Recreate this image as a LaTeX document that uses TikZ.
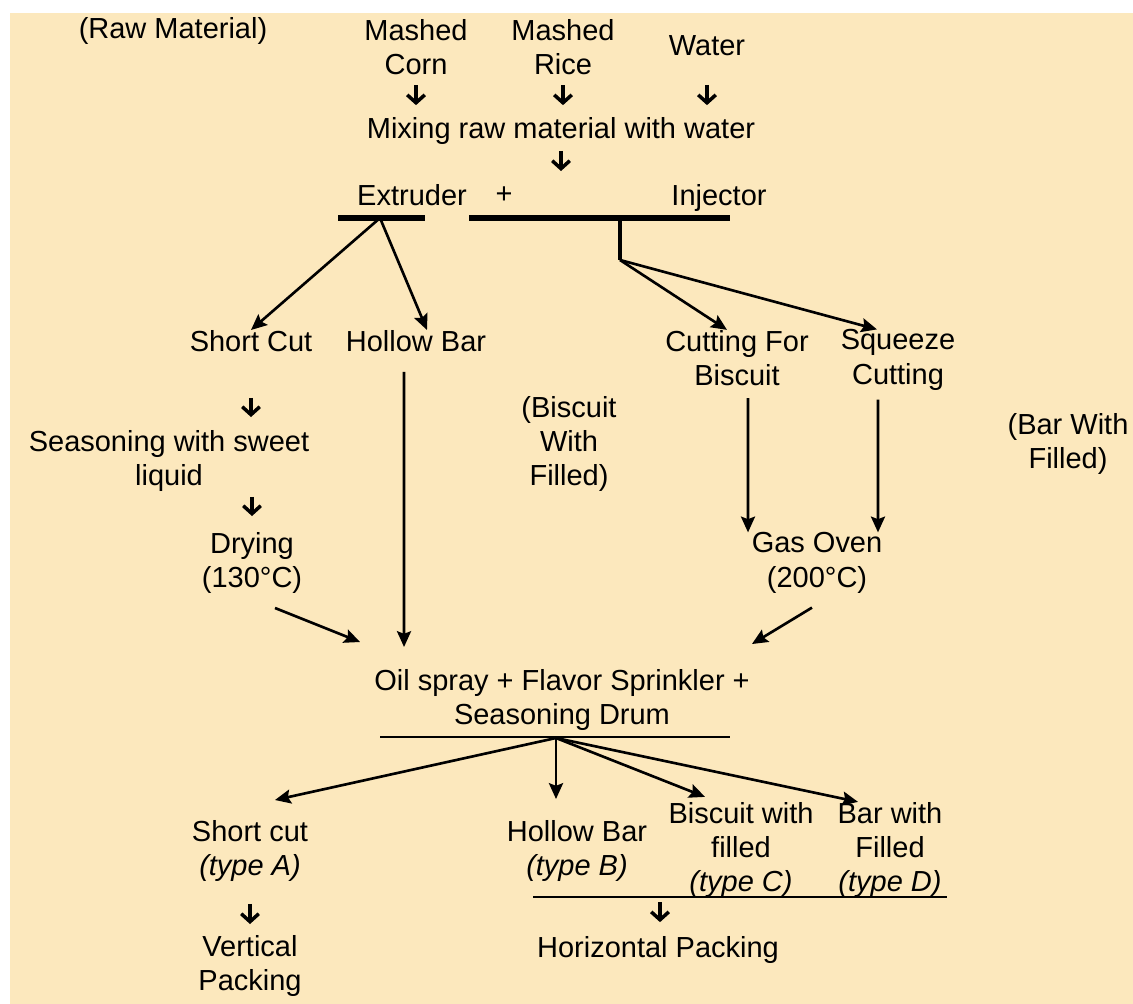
\documentclass[tikz,border=0pt]{standalone}
\usepackage{fontspec}
\setmainfont{Liberation Sans}
\usepackage{tikz}
\usetikzlibrary{arrows.meta}
\definecolor{peach}{RGB}{252,232,189}

\begin{document}
\begin{tikzpicture}[x=0.02cm, y=-0.02cm,
  every node/.style={align=center, inner sep=0pt, font=\fontsize{16.5}{19.5}\selectfont},
  stub/.style={-{Straight Barb[length=4.5pt,width=10pt,line width=2pt]}, line width=2.2pt},
  flow/.style={-{Stealth[length=9pt,width=8pt,inset=1.5pt]}, line width=1.5pt},
  bar/.style={line width=3pt},
  rule/.style={line width=1pt}]
  % Background
  \useasboundingbox (0,0) rectangle (1133,1004);
  \fill[peach] (10,13) rectangle (1133,1004);

  % Raw Material
  \node (raw) at (173,31) {(Raw Material)};
  \node (corn) at (416,47) {Mashed\\Corn};
  \node (rice) at (563,47) {Mashed\\Rice};
  \node (water) at (707,46) {Water};
  \node (mix) at (561,131) {Mixing raw material with water};

  % Extruder + Injector
  \node (ext) at (412,195) {Extruder};
  \node (plus) at (504,195) {+};
  \node (inj) at (719,198) {Injector};
  \coordinate (split) at (561,171);
  \coordinate (extL) at (338,218);
  \coordinate (extR) at (425,218);
  \coordinate (extM) at (380,218);
  \coordinate (injL) at (469,218);
  \coordinate (injR) at (730,218);
  \coordinate (injM) at (620,218);
  \coordinate (injK) at (620,260);

  % Cutting
  \node (sc) at (251,341) {Short Cut};
  \node (hb) at (416,341) {Hollow Bar};
  \node (cfb) at (737,358) {Cutting For\\Biscuit};
  \node (sq) at (898,360) {Squeeze\\Cutting};
  \node (bis) at (569,444) {(Biscuit\\With\\Filled)};
  \node (bwith) at (1068,444) {(Bar With\\Filled)};

  % Seasoning, Drying, Oven
  \node (se) at (169,461) {Seasoning with sweet\\liquid};
  \node (dry) at (252,563) {Drying\\(130°C)};
  \node (go) at (817,563) {Gas Oven\\(200°C)};

  % Oil spray
  \node (oil) at (562,700) {Oil spray + Flavor Sprinkler +\\Seasoning Drum};
  \coordinate (oilL) at (380,737);
  \coordinate (oilR) at (730,737);
  \coordinate (oilM) at (556,738);

  % Products
  \node (sca) at (250,851) {Short cut\\\textit{(type A)}};
  \node (hb2) at (577,851) {Hollow Bar\\\textit{(type B)}};
  \node (bwf) at (741,850) {Biscuit with\\filled\\\textit{(type C)}};
  \node (barf) at (890,850) {Bar with\\Filled\\\textit{(type D)}};
  \coordinate (typL) at (533,897);
  \coordinate (typR) at (947,897);
  \coordinate (typM) at (660,897);

  % Packing
  \node (vp) at (250,966) {Vertical\\Packing};
  \node (hp) at (658,950) {Horizontal Packing};

  % Arrows
  \draw[stub, shorten <=0.2cm, shorten >=0.24cm] (corn.south) -- (corn.south |- mix.north);
  \draw[stub, shorten <=0.2cm, shorten >=0.24cm] (rice.south) -- (rice.south |- mix.north);
  \draw[stub, shorten <=0.57cm, shorten >=0.24cm] (water.south) -- (water.south |- mix.north);
  \draw[stub, shorten <=0.12cm] (mix.south) -- (split);

  \draw[bar] (extL) -- (extR);
  \draw[bar] (injL) -- (injR);
  \draw[line width=1.8pt] (injM) -- (injK);

  \draw[flow] (extM) -- (sc.north);
  \draw[flow] (extM) -- ([xshift=0.22cm]hb.north);
  \draw[flow] (injK) -- ([xshift=-0.2cm]cfb.north);
  \draw[flow] (injK) -- ([xshift=-0.42cm]sq.north);

  \draw[stub, shorten <=0.92cm, shorten >=0.26cm] (sc.south) -- (sc.south |- se.north);
  \draw[stub, shorten <=0.1cm, shorten >=0.32cm] (dry.north |- se.south) -- (dry.north);

  \draw[flow, shorten <=0.4cm, shorten >=0.44cm] ([xshift=-0.24cm]hb.south) -- ([xshift=-3.16cm]oil.north);
  \draw[flow, shorten <=0.24cm] ([xshift=0.22cm]cfb.south) -- ([xshift=-1.38cm]go.north);
  \draw[flow, shorten <=0.18cm] ([xshift=-0.4cm]sq.south) -- ([xshift=1.22cm]go.north);

  \draw[flow] ([xshift=0.46cm,yshift=-0.28cm]dry.south) -- ([xshift=-4.04cm,yshift=0.54cm]oil.north);
  \draw[flow] ([xshift=-0.1cm,yshift=-0.28cm]go.south) -- ([xshift=3.8cm,yshift=0.5cm]oil.north);

  \draw[rule] (oilL) -- (oilR);
  \draw[flow] (oilM) -- ([xshift=0.5cm,yshift=0.4cm]sca.north);
  \draw[flow, shorten >=0.42cm] (oilM) -- (oilM |- hb2.north);
  \draw[flow] (oilM) -- ([xshift=-0.72cm,yshift=0.1cm]bwf.north);
  \draw[flow] (oilM) -- ([xshift=-0.64cm]barf.north);

  \draw[rule] (typL) -- (typR);
  \draw[stub, shorten <=0.44cm, shorten >=0.22cm] (sca.south) -- (sca.south |- vp.north);
  \draw[stub, shorten <=0.1cm, shorten >=0.28cm] (typM) -- (typM |- hp.north);
\end{tikzpicture}
\end{document}
